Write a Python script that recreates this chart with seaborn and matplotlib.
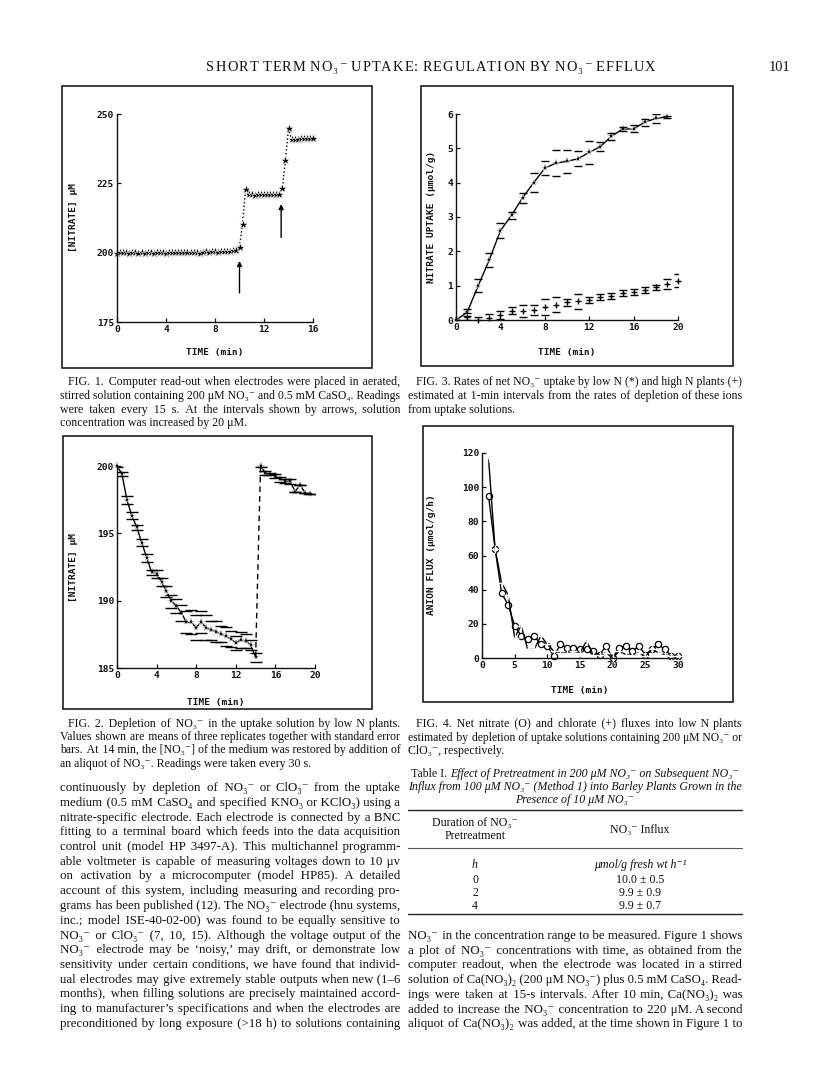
import numpy as np
import pandas as pd
import matplotlib
matplotlib.use('Agg')
import matplotlib.pyplot as plt
from matplotlib.patches import Rectangle
from matplotlib.lines import Line2D
import seaborn as sns

W, H = 816, 1073

# ---------------- data ----------------
# Fig. 1: electrode read-out, one reading every 15 s (0.25 min)
fig1_interval_min = 0.25
fig1_nitrate = [
    200.0, 200.2, 200.1, 200.3, 200.0, 200.2, 200.1, 199.9, 200.2, 200.0,
    200.3, 200.1, 200.0, 200.3, 200.2, 200.1, 200.0, 200.2, 200.1, 200.3,
    200.2, 200.4, 200.3, 200.2, 200.1, 200.3, 200.2, 200.0, 200.2, 200.5,
    200.4, 200.6, 200.5, 200.4, 200.6, 200.5, 200.7, 200.6, 200.8, 201.0,
    202.0, 210.5, 223.0,
    221.0, 221.1, 220.9, 221.0, 221.2, 221.0, 221.1, 221.0, 221.2, 221.1, 221.3,
    223.2, 233.5, 244.8,
    241.0, 241.1, 241.0, 241.2, 241.3, 241.2, 241.4, 241.5,
]
fig1_arrow_x = [10.0, 13.4]
fig1_arrow_from = [185.5, 205.5]
fig1_arrow_to = [197.0, 217.5]

# Fig. 2: depletion of NO3- (readings every 30 s), then restored at 14 min
fig2_time_a = [0, 0.5, 1, 1.5, 2, 2.5, 3, 3.5, 4, 4.5, 5, 5.5, 6, 6.5, 7, 7.5,
               8, 8.5, 9, 9.5, 10, 10.5, 11, 11.5, 12, 12.5, 13, 13.5, 14]
fig2_conc_a = [200.0, 199.4, 197.5, 196.3, 195.45, 194.3, 193.2, 192.1, 192.0,
               191.4, 190.7, 189.95, 189.6, 189.1, 188.4, 188.4, 188.0, 188.4,
               188.0, 187.8, 187.7, 187.5, 187.35, 187.15, 186.85, 187.1, 187.0,
               186.7, 185.8]
fig2_se_a = [0.05, 0.15, 0.3, 0.25, 0.2, 0.25, 0.3, 0.2, 0.3, 0.3, 0.4, 0.5,
             0.5, 0.6, 0.8, 0.9, 0.9, 0.8, 0.9, 0.7, 0.8, 0.6, 0.7, 0.6, 0.5,
             0.6, 0.5, 0.4, 0.35]
fig2_time_b = [14.5, 15, 15.5, 16, 16.5, 17, 17.5, 18, 18.5, 19, 19.5]
fig2_conc_b = [200.0, 199.45, 199.4, 199.25, 199.0, 198.9, 198.85, 198.1,
               198.6, 198.0, 197.9]
fig2_se_b = [0.05, 0.15, 0.1, 0.15, 0.2, 0.15, 0.2, 0.0, 0.0, 0.0, 0.0]

# Fig. 3: net NO3- uptake, low N (*) and high N (+)
fig3_time_low = list(range(0, 20))
fig3_low = [0.0, 0.22, 1.0, 1.75, 2.6, 3.05, 3.56, 4.0, 4.42, 4.57, 4.62, 4.7,
            4.88, 5.05, 5.35, 5.56, 5.57, 5.76, 5.87, 5.92]
fig3_low_se = [0.0, 0.1, 0.18, 0.2, 0.22, 0.1, 0.15, 0.27, 0.2, 0.37, 0.33,
               0.22, 0.33, 0.12, 0.1, 0.05, 0.1, 0.1, 0.12, 0.03]
fig3_time_high = list(range(1, 21))
fig3_high = [0.1, 0.0, 0.05, 0.15, 0.27, 0.27, 0.3, 0.38, 0.45, 0.52, 0.55,
             0.58, 0.67, 0.7, 0.78, 0.82, 0.88, 0.95, 1.05, 1.15]
fig3_high_se = [0.1, 0.08, 0.12, 0.12, 0.1, 0.17, 0.15, 0.24, 0.22, 0.1, 0.22,
                0.08, 0.1, 0.1, 0.08, 0.08, 0.08, 0.08, 0.14, 0.2]

# Fig. 4: nitrate (O) and chlorate (+) fluxes
fig4_time = list(range(1, 31))
fig4_nitrate = [95, 64, 38, 31, 19, 13, 11, 13, 8, 7, 1, 8, 6, 6, 5, 5, 4, 2,
                7, 0, 6, 7, 4, 7, 2, 5, 8, 5, 1, 1]
fig4_chlorate = [117, 64, 44, 37, 12, 19, 5, 5, 13, 8, 4, 3, 3, 4, 3, 10, 2,
                 2, 3, 0, 4, 2, 2, 3, 1, 5, 3, 2, 1, 1]

# Table I
table_duration = ['0', '2', '4']
table_influx = [10.0, 9.9, 9.9]
table_influx_se = [0.5, 0.9, 0.7]

# ---------------- text ----------------
header = 'SHORT TERM NO\u2083\u207b UPTAKE: REGULATION BY NO\u2083\u207b EFFLUX'
page_no = '101'
cap1 = ['FIG. 1. Computer read-out when electrodes were placed in aerated,',
        'stirred solution containing 200 \u03bcM NO\u2083\u207b and 0.5 mM CaSO\u2084. Readings',
        'were taken every 15 s. At the intervals shown by arrows, solution',
        'concentration was increased by 20 \u03bcM.']
cap3 = ['FIG. 3. Rates of net NO\u2083\u207b uptake by low N (*) and high N plants (+)',
        'estimated at 1-min intervals from the rates of depletion of these ions',
        'from uptake solutions.']
cap2 = ['FIG. 2. Depletion of NO\u2083\u207b in the uptake solution by low N plants.',
        'Values shown are means of three replicates together with standard error',
        'bars. At 14 min, the [NO\u2083\u207b] of the medium was restored by addition of',
        'an aliquot of NO\u2083\u207b. Readings were taken every 30 s.']
cap4 = ['FIG. 4. Net nitrate (O) and chlorate (+) fluxes into low N plants',
        'estimated by depletion of uptake solutions containing 200 \u03bcM NO\u2083\u207b or',
        'ClO\u2083\u207b, respectively.']
body_left = [
    'continuously by depletion of NO\u2083\u207b or ClO\u2083\u207b from the uptake',
    'medium (0.5 mM CaSO\u2084 and specified KNO\u2083 or KClO\u2083) using a',
    'nitrate-specific electrode. Each electrode is connected by a BNC',
    'fitting to a terminal board which feeds into the data acquisition',
    'control unit (model HP 3497-A). This multichannel programm-',
    'able voltmeter is capable of measuring voltages down to 10 \u03bcv',
    'on activation by a microcomputer (model HP85). A detailed',
    'account of this system, including measuring and recording pro-',
    'grams has been published (12). The NO\u2083\u207b electrode (hnu systems,',
    'inc.; model ISE-40-02-00) was found to be equally sensitive to',
    'NO\u2083\u207b or ClO\u2083\u207b (7, 10, 15). Although the voltage output of the',
    'NO\u2083\u207b electrode may be \u2018noisy,\u2019 may drift, or demonstrate low',
    'sensitivity under certain conditions, we have found that individ-',
    'ual electrodes may give extremely stable outputs when new (1\u20136',
    'months), when filling solutions are precisely maintained accord-',
    'ing to manufacturer\u2019s specifications and when the electrodes are',
    'preconditioned by long exposure (>18 h) to solutions containing',
]
body_right = [
    'NO\u2083\u207b in the concentration range to be measured. Figure 1 shows',
    'a plot of NO\u2083\u207b concentrations with time, as obtained from the',
    'computer readout, when the electrode was located in a stirred',
    'solution of Ca(NO\u2083)\u2082 (200 \u03bcM NO\u2083\u207b) plus 0.5 mM CaSO\u2084. Read-',
    'ings were taken at 15-s intervals. After 10 min, Ca(NO\u2083)\u2082 was',
    'added to increase the NO\u2083\u207b concentration to 220 \u03bcM. A second',
    'aliquot of Ca(NO\u2083)\u2082 was added, at the time shown in Figure 1 to',
]
table_title = [
    [('Table I. ', 'normal'), ('Effect of Pretreatment in 200 \u03bcM NO\u2083\u207b on Subsequent NO\u2083\u207b', 'italic')],
    [('Influx from 100 \u03bcM NO\u2083\u207b (Method 1) into Barley Plants Grown in the', 'italic')],
    [('Presence of 10 \u03bcM NO\u2083\u207b', 'italic')],
]

# ---------------- figure ----------------
sns.set_style('ticks')
SERIF = ['Liberation Serif', 'DejaVu Serif']
MONO = ['DejaVu Sans Mono']
plt.rcParams['font.family'] = SERIF

fig = plt.figure(figsize=(W / 100, H / 100), dpi=100)
fig.patch.set_facecolor('white')
renderer = fig.canvas.get_renderer()
HAIR = '\u200a'


def fx(x):
    return x / W


def fy(y):
    return 1 - y / H


def add_box(x0, y0, x1, y1, lw=1.2):
    fig.add_artist(Rectangle((fx(x0), fy(y1)), (x1 - x0) / W, (y1 - y0) / H,
                             transform=fig.transFigure, fill=False,
                             edgecolor='#1e1e1e', linewidth=lw))


def add_axes(x0, y0, x1, y1):
    return fig.add_axes([fx(x0), fy(y1), (x1 - x0) / W, (y1 - y0) / H])


def hline(x0, x1, y, lw=0.8, color='#222222'):
    fig.add_artist(Line2D([fx(x0), fx(x1)], [fy(y), fy(y)],
                          transform=fig.transFigure, color=color, lw=lw))


def measure(s, size, style='normal', family=SERIF):
    t = fig.text(0, 0, s, fontsize=size, style=style, family=family)
    w = t.get_window_extent(renderer).width
    t.remove()
    return w


def put(x, y, s, size, ha='left', style='normal', family=SERIF, **kw):
    return fig.text(fx(x), fy(y), s, fontsize=size, ha=ha, va='baseline',
                    style=style, family=family, color='#111111', **kw)


def justified(lines, x0, x1, y0, dy, size, indent=0, justify_last=False):
    """One text object per line; justification by padding spaces with hair spaces."""
    for i, line in enumerate(lines):
        yb = y0 + i * dy
        xs = x0 + (indent if i == 0 else 0)
        words = line.split(' ')
        last = (i == len(lines) - 1) and not justify_last
        fs = size
        while measure(line, fs) > (x1 - xs) and fs > 5:
            fs -= 0.1
        if last or len(words) == 1:
            put(xs, yb, line, fs)
            continue
        extra = (x1 - xs) - measure(line, fs)
        hw = (measure('a' + HAIR * 10 + 'a', fs) - measure('aa', fs)) / 10.0
        total = max(0, int(round(extra / hw))) if hw > 0 else 0
        ngaps = len(words) - 1
        s = words[0]
        for k, w in enumerate(words[1:]):
            cnt = total // ngaps + (1 if k < total % ngaps else 0)
            s += ' ' + HAIR * cnt + w
        put(xs, yb, s, fs)


def runs_centered(runs, xc, yb, size):
    sp = measure('a a', size) - measure('aa', size)
    parts = []
    for s, st in runs:
        trail = s.endswith(' ')
        parts.append((s.rstrip(), st, measure(s.rstrip(), size, style=st) + (sp if trail else 0)))
    total = sum(p[2] for p in parts)
    x = xc - total / 2
    for s, st, w in parts:
        put(x, yb, s, size, style=st)
        x += w


def tracked_centered(s, xc, yb, size, track):
    sp = measure('A A', size) - measure('AA', size)
    widths = [sp if c == ' ' else measure(c, size) for c in s]
    total = sum(widths) + track * (len(s) - 1)
    x = xc - total / 2
    for c, w in zip(s, widths):
        if c != ' ':
            put(x, yb, c, size)
        x += w + track


TICK_SIZE = 6.8


def style_axes(ax, xlim, ylim, xticks, yticks):
    ax.set_xlim(*xlim)
    ax.set_ylim(*ylim)
    ax.set_xticks(xticks)
    ax.set_yticks(yticks)
    sns.despine(ax=ax)
    for side in ('left', 'bottom'):
        ax.spines[side].set_linewidth(1.0)
        ax.spines[side].set_color('#111111')
    ax.tick_params(direction='in', length=3, width=0.9, pad=2,
                   labelsize=TICK_SIZE, colors='#111111')
    for lab in ax.get_xticklabels() + ax.get_yticklabels():
        lab.set_family(MONO)
        lab.set_weight('bold')
    ax.set_xlabel('')
    ax.set_ylabel('')
    ax.patch.set_alpha(0)
    ax.grid(False)


def axis_label(x, y, s, rotation=0):
    fig.text(fx(x), fy(y), s, fontsize=6.8, family=MONO, weight='bold',
             ha='center', va='center', rotation=rotation, color='#111111')


# ---- Fig. 1 ----
add_box(62, 86, 372, 368)
ax1 = add_axes(117, 114, 313, 322)
df1 = pd.DataFrame({'time': np.arange(len(fig1_nitrate)) * fig1_interval_min,
                    'nitrate': fig1_nitrate})
sns.lineplot(data=df1, x='time', y='nitrate', ax=ax1, color='black',
             linestyle=':', linewidth=1.0, marker='*', markersize=6.5,
             markeredgewidth=0.4, clip_on=False)
for ax_x, a0, a1 in zip(fig1_arrow_x, fig1_arrow_from, fig1_arrow_to):
    ax1.annotate('', xy=(ax_x, a1), xytext=(ax_x, a0),
                 arrowprops=dict(arrowstyle='-|>', color='black', lw=1.0,
                                 mutation_scale=7, shrinkA=0, shrinkB=0))
style_axes(ax1, (0, 16), (175, 250), [0, 4, 8, 12, 16], [175, 200, 225, 250])
axis_label(215, 352, 'TIME (min)')
axis_label(73, 218, '[NITRATE] \u03bcM', rotation=90)

# ---- Fig. 3 ----
add_box(421, 86, 733, 366)
ax3 = add_axes(456, 114, 678, 320)
sns.lineplot(x=fig3_time_low, y=fig3_low, ax=ax3, color='black', linewidth=1.0,
             marker='*', markersize=5.5, markeredgewidth=0.3, clip_on=False)
ax3.errorbar(fig3_time_low, fig3_low, yerr=fig3_low_se, fmt='none',
             ecolor='black', elinewidth=0, capsize=3, capthick=1.0)
sns.scatterplot(x=fig3_time_high, y=fig3_high, ax=ax3, color='black',
                marker='+', s=22, linewidth=1.0, clip_on=False)
ax3.errorbar(fig3_time_high, fig3_high, yerr=fig3_high_se, fmt='none',
             ecolor='black', elinewidth=0, capsize=3, capthick=1.0)
style_axes(ax3, (0, 20), (0, 6), [0, 4, 8, 12, 16, 20], [0, 1, 2, 3, 4, 5, 6])
axis_label(567, 352, 'TIME (min)')
axis_label(432, 217, 'NITRATE UPTAKE (\u03bcmol/g)', rotation=90)

# ---- Fig. 2 ----
add_box(63, 436, 372, 709)
ax2 = add_axes(117, 466, 315, 668)
sns.lineplot(x=fig2_time_a, y=fig2_conc_a, ax=ax2, color='black', linewidth=1.0,
             marker='*', markersize=5.5, markeredgewidth=0.3, clip_on=False)
sns.lineplot(x=fig2_time_b, y=fig2_conc_b, ax=ax2, color='black', linewidth=1.0,
             marker='*', markersize=5.5, markeredgewidth=0.3, clip_on=False)
ax2.plot([fig2_time_a[-1], fig2_time_b[0]], [fig2_conc_a[-1], fig2_conc_b[0]],
         color='black', linestyle=(0, (4, 3)), linewidth=1.0)
ax2.errorbar(fig2_time_a, fig2_conc_a, yerr=fig2_se_a, fmt='none',
             ecolor='black', elinewidth=0, capsize=4, capthick=1.0)
ax2.errorbar(fig2_time_b, fig2_conc_b, yerr=fig2_se_b, fmt='none',
             ecolor='black', elinewidth=0, capsize=4, capthick=1.0)
style_axes(ax2, (0, 20), (185, 200), [0, 4, 8, 12, 16, 20], [185, 190, 195, 200])
axis_label(216, 703, 'TIME (min)')
axis_label(73, 567, '[NITRATE] \u03bcM', rotation=90)

# ---- Fig. 4 ----
add_box(423, 426, 733, 702)
ax4 = add_axes(482, 453, 678, 658)
sns.lineplot(x=fig4_time, y=fig4_nitrate, ax=ax4, color='black', linewidth=1.0,
             marker='o', markersize=4.5, markerfacecolor='white',
             markeredgecolor='black', markeredgewidth=0.9, clip_on=False)
sns.lineplot(x=fig4_time, y=fig4_chlorate, ax=ax4, color='black', linewidth=1.0,
             marker='+', markersize=6, markeredgewidth=1.0, clip_on=False)
style_axes(ax4, (0, 30), (0, 120), [0, 5, 10, 15, 20, 25, 30],
           [0, 20, 40, 60, 80, 100, 120])
axis_label(580, 690, 'TIME (min)')
axis_label(431, 555, 'ANION FLUX (\u03bcmol/g/h)', rotation=90)

# ---------------- page text ----------------
tracked_centered(header, 431, 71, 10.4, 1.1)
put(790, 71, page_no, 10.4, ha='right')

CAP = 8.6
BODY = 9.3
justified(cap1, 60, 400, 385, 13.8, CAP, indent=8)
justified(cap3, 408, 742, 385, 13.8, CAP, indent=8)
justified(cap2, 60, 400, 727, 13.2, CAP, indent=8)
justified(cap4, 408, 742, 727, 13.5, CAP, indent=8)
justified(body_left, 60, 400, 791, 14.75, BODY, justify_last=True)
justified(body_right, 408, 742, 939, 14.7, BODY, justify_last=True)

for i, runs in enumerate(table_title):
    runs_centered(runs, 575, 777 + i * 13, CAP)

hline(408, 742, 810, lw=1.0)
hline(408, 742, 848, lw=0.8, color='#555555')
hline(408, 742, 914, lw=1.0)
put(475, 826, 'Duration of NO\u2083\u207b', CAP, ha='center')
put(475, 839, 'Pretreatment', CAP, ha='center')
put(640, 833, 'NO\u2083\u207b Influx', CAP, ha='center')
put(475, 868, 'h', CAP, ha='center', style='italic')
put(640, 868, '\u03bcmol/g fresh wt h\u207b\u00b9', CAP, ha='center', style='italic')
for i, (d, m, s) in enumerate(zip(table_duration, table_influx, table_influx_se)):
    yb = 883 + i * 13
    put(475, yb, d, CAP, ha='center')
    put(640, yb, f'{m:.1f} \u00b1 {s:.1f}', CAP, ha='center')

fig.savefig('out.png', dpi=100, facecolor='white')
